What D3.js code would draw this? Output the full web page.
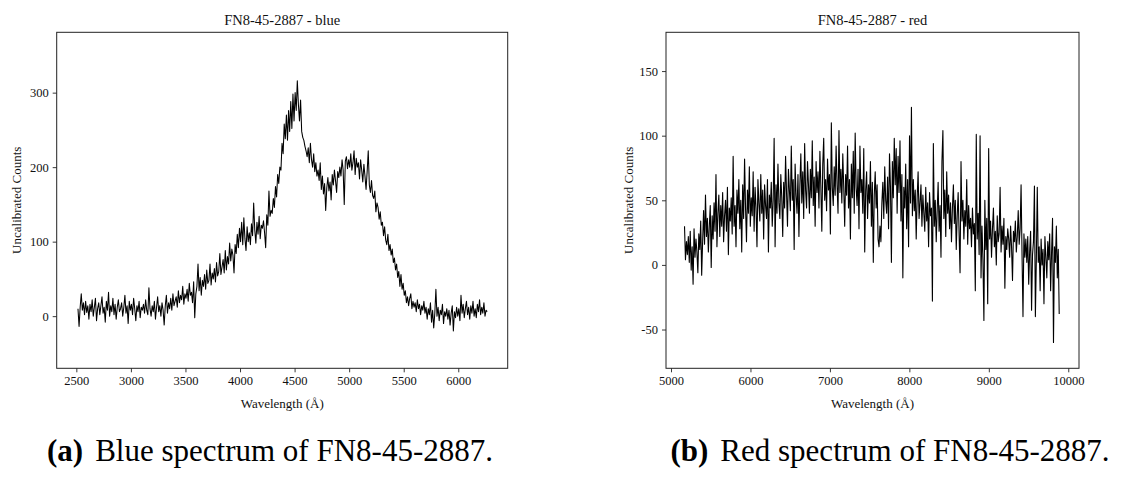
<!DOCTYPE html>
<html>
<head>
<meta charset="utf-8">
<script src="https://cdn.jsdelivr.net/npm/d3@7/dist/d3.min.js"></script>
<style>
  body { margin: 0; background: #fff; }
</style>
</head>
<body>
<div id="figure"></div>
<script>

// 1. data //////

// blue arm: one value every 10 A starting at 2515 A
const blueStart = 2515
const blueStep = 10
const blueCounts = [
  10, -14, 12, 30, 8, 18, 2, 20, 5, 14,
  -4, 16, 6, 22, 0, 12, 24, -6, 10, 18,
  2, 14, 26, 4, 12, -8, 20, 8, 32, 0,
  14, 6, 24, 2, 16, -4, 12, 22, 6, 10,
  18, 0, 12, 28, 4, 14, -10, 20, 8, 16,
  2, 24, 10, -6, 14, 6, 20, -2, 12, 8,
  16, 4, 22, 8, 2, 38, 10, 0, 14, 6,
  20, -4, 12, 26, 6, 14, 0, 18, 8, -12,
  14, 28, 4, 18, 10, 24, 8, 30, 14, 20,
  26, 12, 34, 18, 28, 22, 40, 16, 30, 24,
  36, 20, 44, 28, 32, 18, 46, -2, 30, 40,
  70, 34, 52, 28, 48, 40, 56, 36, 62, 44,
  48, 70, 42, 58, 50, 64, 46, 72, 54, 60,
  84, 56, 66, 76, 58, 88, 62, 80, 70, 98,
  74, 90, 82, 58, 96, 84, 110, 92, 118, 100,
  126, 96, 132, 104, 88, 120, 100, 112, 96, 124,
  108, 152, 116, 98, 126, 110, 134, 104, 122, 118,
  128, 112, 92, 136, 122, 168, 134, 142, 138, 158,
  146, 174, 160, 190, 178, 200, 196, 232, 218, 258,
  238, 270, 236, 276, 248, 288, 252, 298, 262, 300,
  276, 316, 284, 262, 290, 248, 240, 236, 228, 222,
  214, 226, 206, 232, 210, 200, 218, 194, 206, 188,
  196, 182, 206, 170, 188, 164, 178, 142, 172, 186,
  168, 180, 156, 190, 176, 196, 182, 166, 194, 186,
  200, 188, 210, 196, 150, 208, 214, 198, 210, 200,
  218, 196, 206, 222, 190, 212, 200, 206, 184, 210,
  196, 180, 204, 188, 170, 194, 222, 176, 166, 182,
  162, 158, 168, 140, 152, 146, 130, 140, 122, 126,
  108, 120, 102, 96, 110, 88, 96, 82, 90, 72,
  78, 62, 70, 52, 60, 40, 56, 36, 44, 28,
  34, 18, 26, 14, 24, 30, 10, 20, 12, 18,
  6, 22, 10, 16, 2, 14, 8, 20, 4, 12,
  -4, 10, 2, 18, -8, 8, -16, 4, 36, 0,
  12, -6, 8, 2, 16, -10, 6, 0, 10, -4,
  8, -12, 4, 14, -20, 6, -2, 12, 0, 10,
  -6, 28, 4, 16, -2, 10, 20, 2, 12, -4,
  14, 4, 20, 0, 10, -2, 16, 6, 22, 2,
  12, 4, 18, 0, 8, 6
]

// red arm: one value every 12 A starting at 5170 A
const redStart = 5170
const redStep = 12
const redCounts = [
  30, 4, 18, 8, 22, 2, 26, -4, 14, -15,
  28, 6, 20, 10, -6, 24, 12, 34, -8, 18,
  42, 16, 54, 22, 36, 10, 30, 46, -2, 38,
  20, 48, 26, 70, 14, 40, 54, 22, 46, 30,
  56, 18, 38, 50, 26, 60, 8, 44, 34, 52,
  24, 84, 30, 46, 14, 58, 40, 66, 28, 50,
  10, 62, 36, 82, 44, 18, 58, 40, 76, 30,
  52, 38, 72, 26, 60, 44, 14, 66, 48, 34,
  70, 40, 58, 20, 62, 46, 36, 66, 10, 54,
  44, 64, 30, 50, 98, 14, 62, 40, 78, 48,
  36, 70, 52, 22, 64, 44, 84, 56, 30, 74,
  58, 42, 92, 50, 66, 12, 78, 54, 40, 70,
  22, 62, 86, 48, 72, 36, 94, 58, 44, 80,
  62, 40, 74, 52, 96, 46, 68, 30, 80, 56,
  72, 44, 88, 60, 26, 78, 98, 50, 66, 42,
  82, 58, 70, 24, 110, 60, 46, 76, 54, 92,
  62, 40, 104, 56, 74, 48, 86, 60, 30, 70,
  54, 92, 44, 66, 20, 78, 52, 88, 40, 102,
  60, 46, 74, 28, 92, 56, 66, 40, 90, 10,
  58, 72, 36, 62, 48, 80, 30, 64, 2, 54,
  72, 44, 62, 20, 14, 30, 18, 48, 64, 36,
  76, 50, 40, 68, 28, 86, 60, 2, 80, 52,
  98, 62, 90, 40, 84, 56, 96, 34, 70, -10,
  60, 44, 78, 28, 66, 14, 100, 48, 122, 38,
  66, 42, 58, 20, 52, 72, 36, 48, 62, 30,
  54, 40, 26, 60, 34, 48, 14, 56, 38, 44,
  -28, 94, 30, 50, 18, 42, 64, 26, 46, 6,
  80, 104, 36, 58, 22, 72, 40, 54, 28, 48,
  18, 44, 62, 32, 50, 12, 38, 56, 24, -6,
  80, 34, 50, 20, 42, 30, 66, 16, 46, 28,
  36, 14, 44, 24, 32, -20, 101, 20, 40, 8,
  100, -10, 30, 4, -43, 50, 12, 36, -30, 90,
  20, 34, 6, 28, 44, 14, 26, 0, 38, 18,
  24, 60, 10, 30, 16, 36, -18, 22, 12, 28,
  20, 6, 30, 14, -12, 26, 18, 34, 10, 22,
  42, 16, 28, 62, 8, -40, 24, 6, 20, 2,
  22, -15, 10, 26, -35, 8, 18, 61, -40, 4,
  60, 2, 14, -20, 20, 0, 12, -30, 22, 6,
  -10, 18, 4, 24, -20, 10, 36, -60, 14, 2,
  30, -10, 12, -38
]

// tick values
const blueXTicks = [2500, 3000, 3500, 4000, 4500, 5000, 5500, 6000]
const blueYTicks = [0, 100, 200, 300]
const redXTicks = [5000, 6000, 7000, 8000, 9000, 10000]
const redYTicks = [-50, 0, 50, 100, 150]

const titles = ["FN8-45-2887 - blue", "FN8-45-2887 - red"]
const captionTags = ["(a)", "(b)"]
const captionTexts = ["Blue spectrum of FN8-45-2887.", "Red spectrum of FN8-45-2887."]

const serif = "'Liberation Serif', 'DejaVu Serif', serif"


function drawSpectra() {

    // accessor functions
    const xAccessor = d => d.wavelength
    const yAccessor = d => d.counts

    // turn the flat count lists into points
    const toPoints = (start, step, counts) =>
        counts.map((c, i) => ({ wavelength: start + i * step, counts: c }))

    const bluePoints = toPoints(blueStart, blueStep, blueCounts)
    const redPoints = toPoints(redStart, redStep, redCounts)

    // 2. dimensions
    const dimensions = { width: 1131, height: 477 }

    const panels = [
        {
            data: bluePoints, stroke: 1.05,
            left: 56.7, right: 507.7, top: 32.3, bottom: 368.3,
            xDomain: [2320, 6453], yDomain: [-70, 381],
            xTicks: blueXTicks, yTicks: blueYTicks,
            title: titles[0], ylabelX: 16,
            captionX: 270
        },
        {
            data: redPoints, stroke: 1.1,
            left: 666, right: 1079, top: 32.3, bottom: 368.3,
            xDomain: [4937, 10135], yDomain: [-80, 180],
            xTicks: redXTicks, yTicks: redYTicks,
            title: titles[1], ylabelX: 628,
            captionX: 890
        }
    ]

    // 3. canvas
    const wrapper = d3.select("#figure")
        .append("svg")
        .attr("width", dimensions.width)
        .attr("height", dimensions.height)
        .attr("font-family", serif)

    panels.forEach((p, idx) => {

        // 4. scales
        const xScale = d3.scaleLinear()
            .domain(p.xDomain)
            .range([p.left, p.right])

        const yScale = d3.scaleLinear()
            .domain(p.yDomain)
            .range([p.bottom, p.top])

        // 5. the spectrum
        const lineGenerator = d3.line()
            .x(d => xScale(xAccessor(d)))
            .y(d => yScale(yAccessor(d)))

        wrapper.append("path")
            .attr("d", lineGenerator(p.data))
            .attr("fill", "none")
            .attr("stroke", "#000")
            .attr("stroke-width", p.stroke)
            .attr("stroke-linejoin", "round")

        // 6. peripherals
        const xAxis = wrapper.append("g")
            .attr("transform", `translate(0, ${p.bottom})`)
            .call(d3.axisBottom(xScale)
                .tickValues(p.xTicks)
                .tickSize(4)
                .tickPadding(4)
                .tickFormat(d3.format("d")))

        const yAxis = wrapper.append("g")
            .attr("transform", `translate(${p.left}, 0)`)
            .call(d3.axisLeft(yScale)
                .tickValues(p.yTicks)
                .tickSize(4)
                .tickPadding(4)
                .tickFormat(d => d < 0 ? "-" + Math.abs(d) : d))

        ;[xAxis, yAxis].forEach(a => {
            a.attr("font-family", serif).attr("font-size", 12.5)
            a.select(".domain").remove()
            a.selectAll("line").attr("stroke", "#222").attr("stroke-width", 0.9)
            a.selectAll("text").attr("fill", "#111")
        })

        // frame around the axes
        wrapper.append("rect")
            .attr("x", p.left)
            .attr("y", p.top)
            .attr("width", p.right - p.left)
            .attr("height", p.bottom - p.top)
            .attr("fill", "none")
            .attr("stroke", "#222")
            .attr("stroke-width", 1)

        wrapper.append("text")
            .attr("x", (p.left + p.right) / 2)
            .attr("y", 25)
            .attr("text-anchor", "middle")
            .attr("font-size", 14.5)
            .attr("fill", "#111")
            .text(p.title)

        wrapper.append("text")
            .attr("x", (p.left + p.right) / 2)
            .attr("y", 408)
            .attr("text-anchor", "middle")
            .attr("font-size", 13)
            .attr("fill", "#111")
            .text("Wavelength (Å)")

        wrapper.append("text")
            .attr("transform", `translate(${p.ylabelX}, ${(p.top + p.bottom) / 2}) rotate(-90)`)
            .attr("dy", "0.35em")
            .attr("text-anchor", "middle")
            .attr("font-size", 13)
            .attr("fill", "#111")
            .text("Uncalibrated Counts")

        // sub-figure caption
        const caption = wrapper.append("text")
            .attr("x", p.captionX)
            .attr("y", 461)
            .attr("text-anchor", "middle")
            .attr("font-size", 31)
            .attr("fill", "#000")

        caption.append("tspan")
            .attr("font-weight", "bold")
            .text(captionTags[idx])
        caption.append("tspan")
            .attr("dx", 12)
            .text(captionTexts[idx])
    })
}

drawSpectra()
</script>
</body>
</html>
